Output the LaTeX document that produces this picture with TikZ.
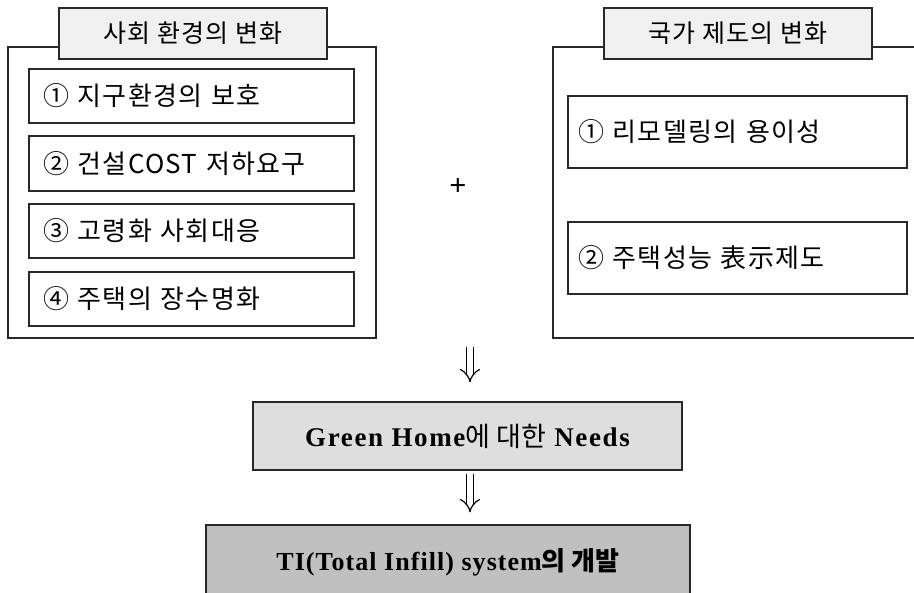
\documentclass[tikz,border=0pt]{standalone}
\usepackage{fontspec}
\setmainfont{Liberation Serif}
\newfontfamily\kr[LetterSpace=5]{Noto Sans CJK KR}
\newfontfamily\krnarrow{Noto Sans CJK KR}
\usetikzlibrary{arrows.meta}
\definecolor{titlegray}{RGB}{240,240,240}
\definecolor{needgray}{RGB}{222,222,222}
\definecolor{devgray}{RGB}{192,192,192}
\definecolor{linegray}{RGB}{40,40,40}

\begin{document}
\begin{tikzpicture}[x=1pt, y=-1pt]
  \tikzstyle{mybox}=[draw=linegray, line width=1.4pt, rectangle, inner sep=0pt];
  \tikzstyle{mytitle}=[mybox, fill=titlegray, font=\kr\fontsize{25}{29}\selectfont];
  \tikzstyle{myitem}=[mybox, fill=white, align=left, inner xsep=14pt,
    font=\kr\fontsize{26}{30}\selectfont];
  \tikzstyle{myresult}=[mybox, font=\bfseries\fontsize{26}{30}\selectfont\addfontfeature{LetterSpace=4}];
  \tikzstyle{mydown}=[line width=1.2pt, double, double distance=6pt, -{Implies}];
  %
  \useasboundingbox (0, 0) rectangle (914, 593);
  \clip (0, 0) rectangle (914, 593);
  %
  % social changes
  \node[mybox, minimum width=368pt, minimum height=291pt] (social) at (192, 192.5) {};
  \node[mytitle, minimum width=268pt, minimum height=51pt] (socialtitle) at (193, 33.5)
    { 사회 환경의 변화 };
  \node[myitem, text width=297pt, minimum height=54pt] (earth) at (191.5, 96)
    { ① 지구환경의 보호 };
  \node[myitem, text width=297pt, minimum height=55pt] (cost) at (191.5, 163.5)
    { ② 건설COST 저하요구 };
  \node[myitem, text width=297pt, minimum height=54pt] (aging) at (191.5, 231)
    { ③ 고령화 사회대응 };
  \node[myitem, text width=297pt, minimum height=54pt] (life) at (191.5, 299)
    { ④ 주택의 장수명화 };
  %
  \node[font=\bfseries\fontsize{30}{34}\selectfont] (plus) at (458, 187) { + };
  %
  % national system changes
  \node[mybox, minimum width=380pt, minimum height=291pt] (nation) at (743, 192.5) {};
  \node[mytitle, minimum width=268pt, minimum height=51pt] (nationtitle) at (738, 33.5)
    { 국가 제도의 변화 };
  \node[myitem, inner xsep=10pt, text width=319pt, minimum height=72pt] (remodel) at (737.5, 132)
    { ① 리모델링의 용이성 };
  \node[myitem, inner xsep=10pt, text width=319pt, minimum height=72pt] (perform) at (737.5, 258)
    { ② 주택성능 表示제도 };
  %
  % needs and development
  \node[myresult, fill=needgray, minimum width=429pt, minimum height=68pt,
    font=\bfseries\fontsize{27}{31}\selectfont\addfontfeature{LetterSpace=6}] (green) at (467.5, 436)
    { Green Home{\krnarrow\mdseries 에 대한} Needs };
  \node[myresult, fill=devgray, minimum width=484pt, minimum height=74pt] (infill) at (448, 562)
    { TI(Total Infill) system{\krnarrow 의 개발} };
  %
  \coordinate (join) at (470, 347);
  \draw[mydown, shorten >=19pt] (join) -- (join |- green.north);
  \draw[mydown, shorten <=3pt, shorten >=12pt] (join |- green.south) -- (join |- infill.north);
\end{tikzpicture}
\end{document}
